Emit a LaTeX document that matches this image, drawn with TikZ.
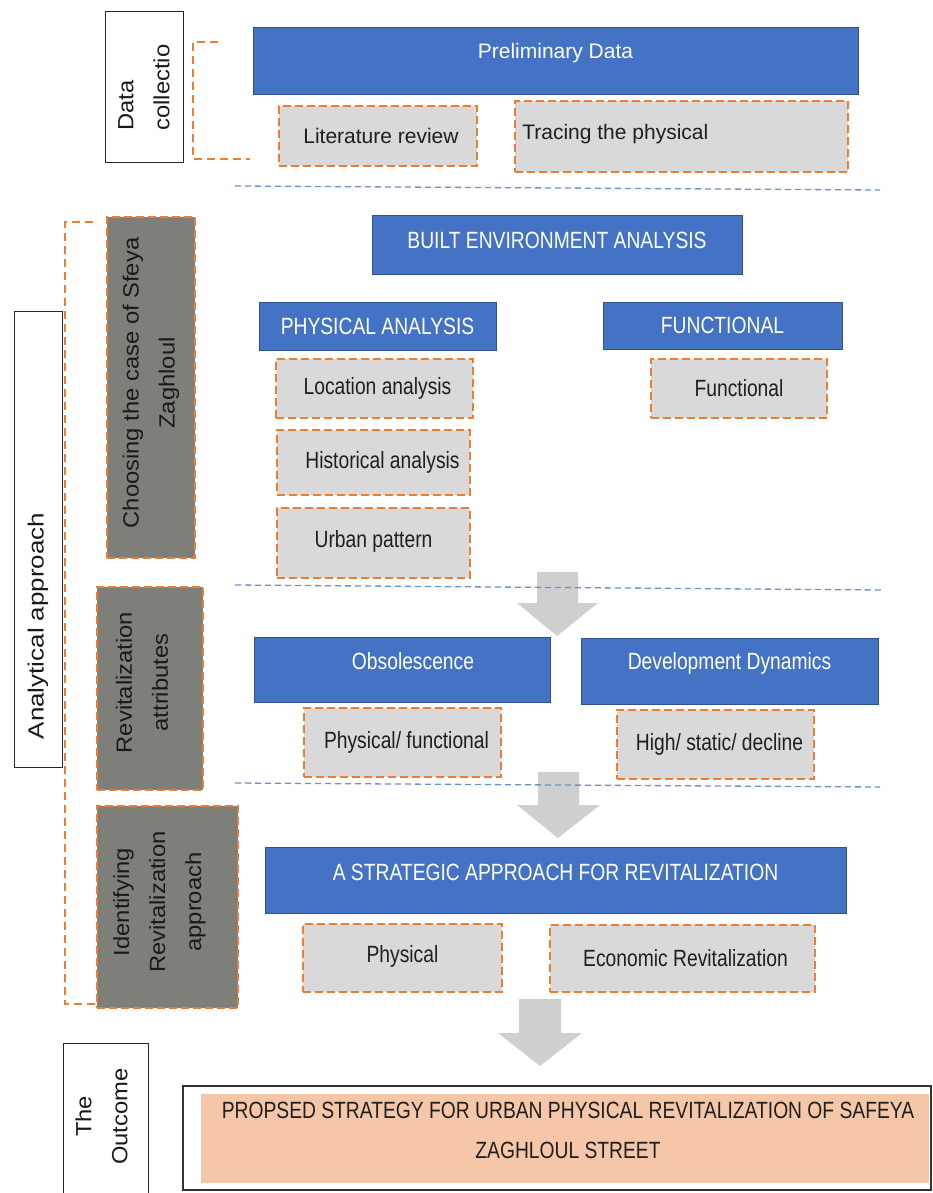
\documentclass[tikz,border=0pt]{standalone}
\usepackage{fontspec}
\setmainfont{Liberation Sans}
\newfontfamily\nar[FakeStretch=0.82]{Liberation Sans}
\newfontfamily\wid[FakeStretch=1.08]{Liberation Sans}
\newfontfamily\widb[FakeStretch=1.18]{Liberation Sans}
\definecolor{bblue}{HTML}{4472C4}
\definecolor{bborder}{HTML}{2F528F}
\definecolor{dorange}{HTML}{ED7D31}
\definecolor{lgray}{HTML}{D9D9D9}
\definecolor{sgray}{HTML}{7F7F7A}
\definecolor{agray}{HTML}{CFCFCF}
\definecolor{sepblue}{HTML}{6F8FCB}
\definecolor{peach}{HTML}{F5C7A8}
\definecolor{txt}{HTML}{1F1F1F}
\begin{document}
\begin{tikzpicture}[x=1pt,y=-1pt,
 wh/.style 2 args={minimum width=#1, minimum height=#2},
 bbox/.style={draw=bborder, fill=bblue, line width=1pt, inner sep=0pt},
 btext/.style={text=white, font=\nar\fontsize{23.5}{27}\selectfont},
 gbox/.style={draw=dorange, fill=lgray, line width=2.4pt, dash pattern=on 8pt off 4pt, inner sep=0pt},
 gtext/.style={text=txt, font=\nar\fontsize{23.5}{27}\selectfont},
 rtext/.style={text=txt, font=\fontsize{21}{25}\selectfont},
 sbox/.style={draw=dorange, fill=sgray, line width=2.4pt, dash pattern=on 8pt off 4pt, inner sep=0pt},
 stext/.style={rotate=90, align=center, text=black!90, font=\wid\fontsize{22}{36}\selectfont},
 wbox/.style={draw=black!85, fill=white, line width=1pt, inner sep=0pt},
 sepline/.style={draw=sepblue, line width=1.3pt, dash pattern=on 6pt off 4pt},
 brk/.style={draw=dorange, line width=2.4pt, dash pattern=on 8pt off 5pt},
 barrow/.style={fill=agray, draw=none},
]
\useasboundingbox (0,0) rectangle (932,1193);
\clip (0,0) rectangle (932,1193);

% brackets
\draw[brk] (218,42) -- (193,42) -- (193,159) -- (250,159);
\draw[brk] (93,222) -- (65,222) -- (65,1004) -- (100,1004);

% side labels
\node[wbox, wh={78pt}{151pt}, label={[stext, align=left]center:Data\\collectio}] (dc) at (144,87.5) {};
\node[wbox, wh={48pt}{456pt}, label={[yshift=-87pt, stext, font=\widb\fontsize{22}{36}\selectfont]center:Analytical approach}] (aa) at (38,539) {};
\node[sbox, wh={88pt}{341pt}, label={[yshift=4.5pt, stext]center:Choosing the case of Sfeya\\Zaghloul}] (cc) at (151,387.5) {};
\node[sbox, wh={106pt}{203pt}, label={[yshift=6pt, xshift=-8pt, stext]center:Revitalization\\attributes}] (ra) at (150,688.5) {};
\node[sbox, wh={141pt}{202pt}, label={[yshift=5pt, xshift=-8pt, stext]center:Identifying\\Revitalization\\approach}] (ir) at (167.5,907) {};
\node[wbox, wh={85pt}{167pt}, label={[yshift=10pt, xshift=-4pt, stext]center:The\\Outcome}] (to) at (105.5,1126.5) {};

% data collection
\node[bbox, wh={605pt}{67pt}, label={[text=white, font=\fontsize{21}{25}\selectfont, yshift=8pt]center:Preliminary Data}] (pd) at (555.5,61.5) {};
\node[gbox, wh={198pt}{60pt}, label={[rtext, xshift=3pt]center:Literature review}] (lr) at (378,136) {};
\node[gbox, wh={333pt}{71pt}, label={[rtext, anchor=west, xshift=5pt, yshift=2pt]west:Tracing the physical}] (tp) at (681.5,136.5) {};

% built environment analysis
\node[bbox, wh={370pt}{59pt}, label={[btext, yshift=4pt]center:BUILT ENVIRONMENT ANALYSIS}] (be) at (557,244.5) {};
\node[bbox, wh={237pt}{48pt}, label={[btext]center:PHYSICAL ANALYSIS}] (pa) at (377.5,326) {};
\node[bbox, wh={239pt}{47pt}, label={[btext]center:FUNCTIONAL}] (fu) at (722.5,325.5) {};
\node[gbox, wh={197pt}{59pt}, label={[gtext, xshift=3pt]center:Location analysis}] (la) at (374.5,388.5) {};
\node[gbox, wh={193pt}{65pt}, label={[gtext, xshift=9pt]center:Historical analysis}] (ha) at (373.5,462.5) {};
\node[gbox, wh={193pt}{70pt}, label={[gtext, yshift=2pt]center:Urban pattern}] (up) at (373.5,543) {};
\node[gbox, wh={176pt}{59pt}, label={[gtext]center:Functional}] (fg) at (739,388.5) {};

% arrows
\fill[barrow] (537,572) -- (578,572) -- (578,603) -- (598,603) -- (557,636) -- (517,603) -- (537,603) -- cycle;
\fill[barrow] (538,772) -- (579,772) -- (579,805) -- (600,805) -- (558,838) -- (517,805) -- (538,805) -- cycle;
\fill[barrow] (519,999) -- (561,999) -- (561,1033) -- (582,1033) -- (540,1066) -- (498,1033) -- (519,1033) -- cycle;

% separators
\draw[sepline] (235,186) -- (880,190);
\draw[sepline] (235,585) -- (882,590);
\draw[sepline] (235,783) -- (880,787);

% revitalization attributes
\node[bbox, wh={296pt}{65pt}, label={[btext, xshift=11pt, yshift=8pt]center:Obsolescence}] (ob) at (402,669.5) {};
\node[bbox, wh={297pt}{66pt}, label={[btext, yshift=8pt]center:Development Dynamics}] (dd) at (729.5,671) {};
\node[gbox, wh={197pt}{69pt}, label={[gtext, xshift=4pt]center:Physical/ functional}] (pf) at (402.5,742.5) {};
\node[gbox, wh={197pt}{69pt}, label={[gtext, xshift=4pt]center:High/ static/ decline}] (hs) at (715.5,744.5) {};

% strategic approach
\node[bbox, wh={581pt}{66pt}, label={[btext, yshift=8pt]center:A STRATEGIC APPROACH FOR REVITALIZATION}] (sa) at (555.5,880) {};
\node[gbox, wh={199pt}{68pt}, label={[gtext, yshift=2pt]center:Physical}] (ph) at (402.5,958) {};
\node[gbox, wh={265pt}{67pt}, label={[gtext, xshift=3pt]center:Economic Revitalization}] (er) at (682.5,958.5) {};

% outcome
\node[draw=black!80, fill=white, line width=1.2pt, inner sep=0pt, wh={748pt}{104pt}] (ob2) at (557,1138) {};
\node[fill=peach, inner sep=0pt, wh={728pt}{89pt}, label={[gtext, align=center, font=\nar\fontsize{23.5}{40}\selectfont, xshift=3pt, yshift=8pt]center:PROPSED STRATEGY FOR URBAN PHYSICAL REVITALIZATION OF SAFEYA\\ZAGHLOUL STREET}] (ps) at (565,1138.5) {};
\end{tikzpicture}
\end{document}
